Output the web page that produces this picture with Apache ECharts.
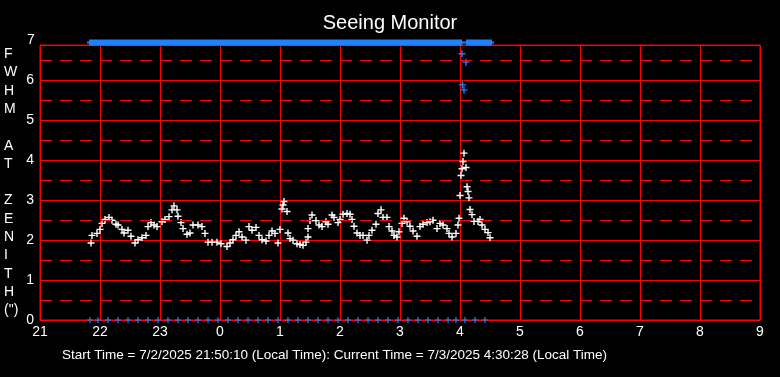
<!DOCTYPE html>
<html>
<head>
<meta charset="utf-8">
<title>Seeing Monitor</title>
<script src="https://cdn.jsdelivr.net/npm/echarts@6/dist/echarts.min.js"></script>
<style>
  html, body { margin: 0; padding: 0; background: #000; }
  #chart { width: 780px; height: 377px; }
</style>
</head>
<body>
<div id="chart"></div>
<script>
// time is in minutes after 21:00 local time
const hourTicks = [21, 22, 23, 0, 1, 2, 3, 4, 5, 6, 7, 8, 9];

// FWHM at zenith (arcsec), white crosses
const fwhmMinutes = [
  51, 52, 57, 60, 62, 65, 69, 72, 76, 78, 82, 84, 88, 91, 95, 98, 102, 106, 108, 111,
  114, 117, 122, 125, 129, 132, 134, 137, 138, 141, 143, 147, 150, 153, 158, 162, 165, 168, 172, 177,
  181, 187, 190, 193, 196, 199, 202, 206, 209, 212, 216, 219, 222, 226, 229, 232, 235, 238, 240, 242,
  243, 244, 247, 248, 250, 253, 257, 260, 263, 266, 268, 268, 270, 272, 276, 279, 282, 286, 288, 292,
  294, 298, 300, 303, 307, 310, 312, 314, 317, 320, 323, 327, 329, 332, 336, 338, 341, 343, 347, 349,
  352, 354, 357, 359, 362, 364, 367, 370, 373, 377, 380, 383, 387, 390, 393, 397, 400, 403, 407, 409,
  412, 416, 418, 419, 420, 421, 422, 423, 424, 426, 427, 428, 429, 430, 432, 434, 438, 440, 442, 445,
  448, 450
];
const fwhmValues = [
  1.93, 2.12, 2.17, 2.27, 2.42, 2.52, 2.57, 2.50, 2.40, 2.38, 2.27, 2.18, 2.25, 2.10, 1.93, 2.01, 2.06, 2.12, 2.34, 2.44,
  2.38, 2.34, 2.46, 2.52, 2.59, 2.76, 2.86, 2.76, 2.60, 2.44, 2.29, 2.15, 2.18, 2.38, 2.38, 2.34, 2.17, 1.95, 1.95, 1.95,
  1.91, 1.84, 1.93, 2.01, 2.12, 2.21, 2.08, 2.00, 2.34, 2.25, 2.32, 2.12, 2.01, 1.98, 2.12, 2.23, 2.17, 1.93, 2.27, 2.78,
  2.88, 2.97, 2.72, 2.18, 2.04, 2.00, 1.91, 1.89, 1.87, 1.95, 2.08, 2.29, 2.49, 2.63, 2.49, 2.38, 2.34, 2.46, 2.40, 2.63,
  2.57, 2.44, 2.52, 2.65, 2.67, 2.65, 2.52, 2.35, 2.18, 2.12, 2.12, 2.00, 2.12, 2.25, 2.40, 2.67, 2.76, 2.57, 2.57, 2.34,
  2.23, 2.12, 2.08, 2.21, 2.42, 2.55, 2.46, 2.35, 2.23, 2.10, 2.34, 2.40, 2.44, 2.46, 2.50, 2.29, 2.42, 2.38, 2.29, 2.17,
  2.08, 2.17, 2.38, 2.55, 3.12, 3.62, 3.79, 3.97, 4.18, 3.82, 3.34, 3.22, 3.06, 2.77, 2.64, 2.47, 2.47, 2.52, 2.38, 2.27,
  2.19, 2.06
];

// second trace (blue), pinned at the 7" ceiling most of the night
const CEILING = 7;
const blueTopMinutes = [
  50, 52, 54, 56, 58, 60, 62, 64, 66, 68, 70, 72, 74, 76, 78, 80, 82, 84, 86, 88,
  90, 92, 94, 96, 98, 100, 102, 104, 106, 108, 110, 112, 114, 116, 118, 120, 122, 124, 126, 128,
  130, 132, 134, 136, 138, 140, 142, 144, 146, 148, 150, 152, 154, 156, 158, 160, 162, 164, 166, 168,
  170, 172, 174, 176, 178, 180, 182, 184, 186, 188, 190, 192, 194, 196, 198, 200, 202, 204, 206, 208,
  210, 212, 214, 216, 218, 220, 222, 224, 226, 228, 230, 232, 234, 236, 238, 240, 242, 244, 246, 248,
  250, 252, 254, 256, 258, 260, 262, 264, 266, 268, 270, 272, 274, 276, 278, 280, 282, 284, 286, 288,
  290, 292, 294, 296, 298, 300, 302, 304, 306, 308, 310, 312, 314, 316, 318, 320, 322, 324, 326, 328,
  330, 332, 334, 336, 338, 340, 342, 344, 346, 348, 350, 352, 354, 356, 358, 360, 362, 364, 366, 368,
  370, 372, 374, 376, 378, 380, 382, 384, 386, 388, 390, 392, 394, 396, 398, 400, 402, 404, 406, 408,
  410, 412, 414, 416, 418, 420, 421, 427, 429, 431, 433, 435, 437, 439, 441, 443, 445, 447, 449, 451
];
const blueDipMinutes = [422, 426, 422.5, 424];
const blueDipValues = [6.67, 6.46, 5.89, 5.76];
// blue crosses along the zero line
const blueZeroMinutes = [
  50, 58, 68, 78, 88, 98, 108, 118, 128, 138, 148, 158, 168, 178, 188, 198, 208, 218, 228, 238,
  248, 258, 268, 278, 288, 298, 308, 318, 328, 338, 348, 358, 368, 378, 388, 398, 408, 416, 425, 435, 445
];

const halfLines = [0.5, 1.5, 2.5, 3.5, 4.5, 5.5, 6.5];
const yTitle = ['F', 'W', 'H', 'M', '', 'A', 'T', '', 'Z', 'E', 'N', 'I', 'T', 'H', '(")'];
const startText = 'Start Time = 7/2/2025 21:50:10 (Local Time): Current Time = 7/3/2025 4:30:28 (Local Time)';

const RED = '#ff0000';
const BLUE = '#1e82ff';
const FONT = '"Liberation Sans", Arial, sans-serif';
// plus signs drawn as filled paths
const PLUS = 'path://M2.8,0H4.2V2.8H7V4.2H4.2V7H2.8V4.2H0V2.8H2.8Z';
const PLUS_BOLD = 'path://M2,0H4V2H6V4H4V6H2V4H0V2H2Z';

let chart = echarts.init(document.getElementById('chart'));
let option = {
  backgroundColor: '#000',
  animation: false,
  title: {
    text: 'Seeing Monitor',
    left: 'center',
    top: 8,
    textStyle: { color: '#fff', fontSize: 20, fontWeight: 'normal', fontFamily: FONT }
  },
  grid: {
    left: 40, right: 20, top: 45, bottom: 57,
    show: true, borderColor: RED, borderWidth: 1, backgroundColor: 'transparent'
  },
  xAxis: {
    type: 'value',
    min: 0, max: 720, interval: 60,
    axisLine: { lineStyle: { color: RED } },
    axisTick: { show: false },
    splitLine: { show: true, lineStyle: { color: RED, width: 1 } },
    axisLabel: {
      color: '#fff', fontSize: 14, fontFamily: FONT, margin: 5,
      formatter: v => String(hourTicks[Math.round(v / 60)])
    }
  },
  yAxis: {
    type: 'value',
    min: 0, max: 6.89, interval: 1,
    axisLine: { lineStyle: { color: RED } },
    axisTick: { show: false },
    splitLine: { show: true, lineStyle: { color: RED, width: 1 } },
    axisLabel: {
      color: '#fff', fontSize: 14, fontFamily: FONT, margin: 6,
      formatter: v => (Math.abs(v - Math.round(v)) < 1e-6 ? String(v) : '')
    }
  },
  graphic: [
    {
      type: 'text', left: 27, top: 33,
      style: { text: '7', fill: '#fff', font: '14px ' + FONT }
    },
    {
      type: 'text', left: 4, top: 45,
      style: {
        text: yTitle.join('\n'), fill: '#fff', font: '14px ' + FONT,
        lineHeight: 18.3, align: 'center', x: 8
      }
    },
    {
      type: 'text', left: 62, top: 348,
      style: { text: startText, fill: '#fff', font: '13.5px ' + FONT }
    }
  ],
  series: [
    {
      name: 'grid half',
      type: 'line',
      data: [],
      silent: true,
      markLine: {
        silent: true,
        symbol: 'none',
        label: { show: false },
        lineStyle: { color: RED, type: [12, 8], width: 1 },
        data: halfLines.map(v => ({ yAxis: v }))
      }
    },
    {
      name: 'blue zero',
      type: 'scatter',
      symbol: PLUS, symbolSize: 6,
      itemStyle: { color: BLUE, opacity: 1 },
      clip: false,
      data: blueZeroMinutes.map(m => [m, 0])
    },
    {
      name: 'blue top',
      type: 'scatter',
      symbol: PLUS_BOLD, symbolSize: 6, symbolOffset: [0, 2],
      itemStyle: { color: BLUE, opacity: 1 },
      clip: false,
      data: blueTopMinutes.map(m => [m, CEILING])
    },
    {
      name: 'blue dips',
      type: 'scatter',
      symbol: PLUS, symbolSize: 7,
      itemStyle: { color: BLUE, opacity: 1 },
      data: blueDipMinutes.map((m, i) => [m, blueDipValues[i]])
    },
    {
      name: 'FWHM',
      type: 'scatter',
      symbol: PLUS, symbolSize: 7,
      itemStyle: { color: '#fff', opacity: 1 },
      data: fwhmMinutes.map((m, i) => [m, fwhmValues[i]])
    }
  ]
};
chart.setOption(option);
window.addEventListener('resize', () => {
  chart.resize();
});
</script>
</body>
</html>
